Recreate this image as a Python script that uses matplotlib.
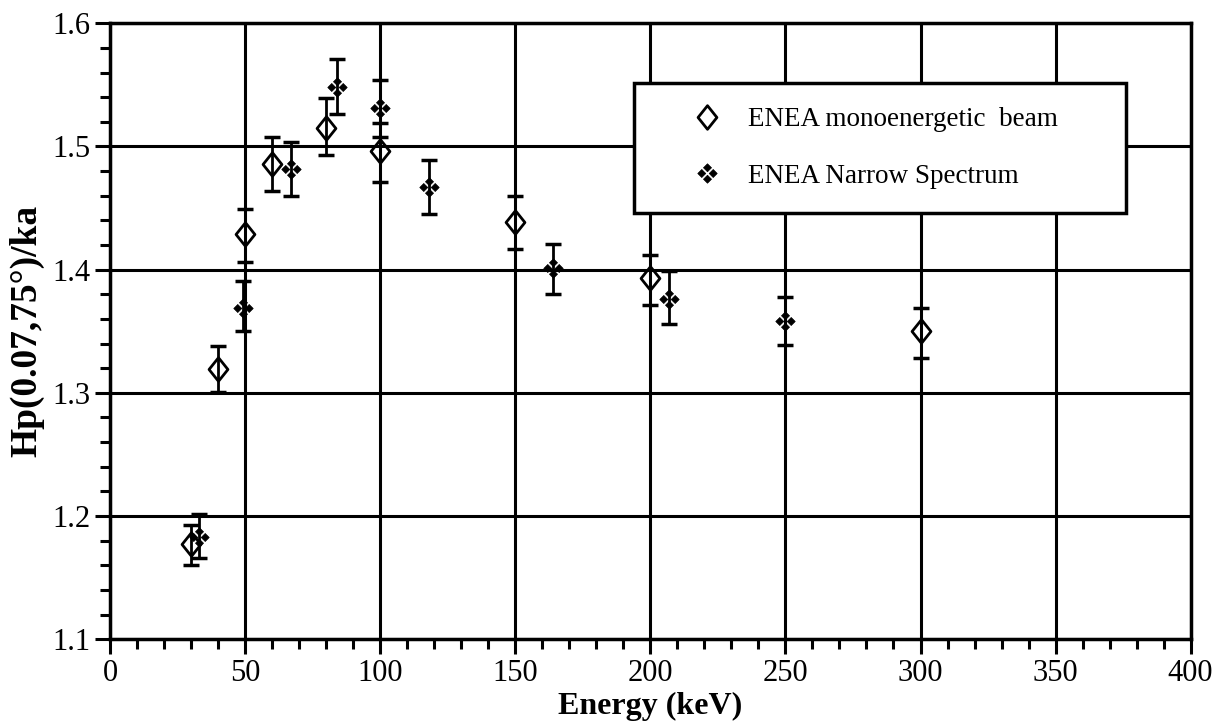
import matplotlib
matplotlib.use("Agg")
import matplotlib.pyplot as plt
from matplotlib.path import Path
from matplotlib.ticker import MultipleLocator
import numpy as np

# ---- data ----
mono_energy = [30, 40, 50, 60, 80, 100, 150, 200, 300]
mono_value = [1.177, 1.319, 1.429, 1.486, 1.515, 1.496, 1.439, 1.393, 1.350]
mono_low = [1.160, 1.301, 1.406, 1.464, 1.493, 1.471, 1.417, 1.371, 1.328]
mono_high = [1.193, 1.338, 1.449, 1.508, 1.539, 1.519, 1.460, 1.412, 1.369]

narrow_energy = [33, 49, 67, 84, 100, 118, 164, 207, 250]
narrow_value = [1.183, 1.369, 1.482, 1.548, 1.531, 1.467, 1.401, 1.376, 1.358]
narrow_low = [1.166, 1.350, 1.460, 1.526, 1.508, 1.445, 1.380, 1.356, 1.339]
narrow_high = [1.202, 1.391, 1.504, 1.571, 1.554, 1.489, 1.421, 1.399, 1.378]

mono_label = "ENEA monoenergetic  beam"
narrow_label = "ENEA Narrow Spectrum"
x_label = "Energy (keV)"
y_label = "Hp(0.07,75°)/ka"

plt.rcParams["font.family"] = ["Liberation Serif", "DejaVu Serif"]

# ---- marker shapes ----
dverts = [(0, 1), (0.8, 0), (0, -1), (-0.8, 0), (0, 1)]
dcodes = [Path.MOVETO, Path.LINETO, Path.LINETO, Path.LINETO, Path.CLOSEPOLY]
open_diamond = Path(dverts, dcodes)

qverts, qcodes = [], []
s = 0.42
for cx, cy in [(0, 0.6), (0.6, 0), (0, -0.6), (-0.6, 0)]:
    qverts += [(cx, cy + s), (cx + s, cy), (cx, cy - s), (cx - s, cy), (cx, cy + s)]
    qcodes += dcodes
four_diamonds = Path(qverts, qcodes)

fig = plt.figure(figsize=(12.18, 7.28), dpi=100)
ax = fig.add_axes([0.0905, 0.122, 0.887, 0.846])

def yerr(vals, lo, hi):
    v = np.array(vals); return [v - np.array(lo), np.array(hi) - v]

ax.errorbar(mono_energy, mono_value, yerr=yerr(mono_value, mono_low, mono_high),
            fmt="none", ecolor="black", elinewidth=2.0, capsize=6, capthick=2.5, zorder=4)
ax.errorbar(narrow_energy, narrow_value, yerr=yerr(narrow_value, narrow_low, narrow_high),
            fmt="none", ecolor="black", elinewidth=2.0, capsize=6, capthick=2.5, zorder=4)

ax.plot(mono_energy, mono_value, linestyle="none", marker=open_diamond, markersize=17,
        markerfacecolor="none", markeredgecolor="black", markeredgewidth=2.0,
        label=mono_label, zorder=5)
ax.plot(narrow_energy, narrow_value, linestyle="none", marker=four_diamonds, markersize=14,
        markerfacecolor="black", markeredgecolor="black", markeredgewidth=0.5,
        label=narrow_label, zorder=5)

ax.set_xlim(0, 400)
ax.set_ylim(1.1, 1.6)
ax.xaxis.set_major_locator(MultipleLocator(50))
ax.xaxis.set_minor_locator(MultipleLocator(10))
ax.yaxis.set_major_locator(MultipleLocator(0.1))
ax.yaxis.set_minor_locator(MultipleLocator(0.02))
ax.grid(which="major", color="black", linewidth=2.2)
ax.set_axisbelow(True)
for sp in ax.spines.values():
    sp.set_linewidth(2.5)
ax.tick_params(which="major", direction="out", length=11, width=2.2, labelsize=22, pad=3)
ax.tick_params(which="minor", direction="out", length=7, width=2.2)

ax.set_xlabel(x_label, fontsize=23, fontweight="bold", labelpad=3)
ax.set_ylabel(y_label, fontsize=27, fontweight="bold", labelpad=6)

leg = ax.legend(loc="upper left", bbox_to_anchor=(0.485, 0.706, 0.455, 0.197),
                mode="expand", borderaxespad=0, fontsize=19.5, fancybox=False,
                framealpha=1, edgecolor="black", borderpad=0.9, labelspacing=1.15,
                handlelength=3.6, handletextpad=-0.3, numpoints=1)
leg.get_frame().set_linewidth(2.5)

fig.savefig("out.png", dpi=100)
